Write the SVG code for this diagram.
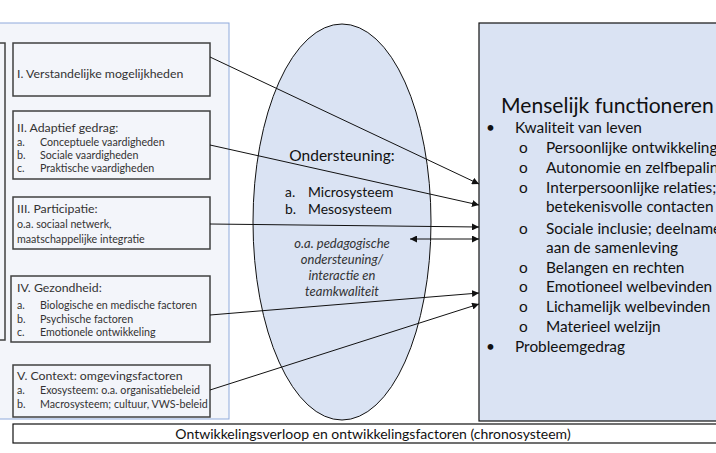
<svg xmlns="http://www.w3.org/2000/svg" width="716" height="453" viewBox="0 0 716 453">
<defs>
<style>
text{font-family:Lato,"Liberation Sans",sans-serif;}
.box{fill:none;stroke:#404040;stroke-width:1.5;}
.t1{font-size:12.3px;fill:#333;}
.t2{font-size:10.7px;fill:#333;}
.r{font-size:15.4px;fill:#111;}
.c{stroke:#111;stroke-width:1;fill:none;marker-end:url(#ah);}
</style>
<marker id="ah" viewBox="0 0 10 10" refX="10" refY="5" markerWidth="7" markerHeight="7" markerUnits="userSpaceOnUse" orient="auto-start-reverse">
<path d="M0,0 L10,5 L0,10 z" fill="#111"/>
</marker>
</defs>
<rect x="0" y="0" width="716" height="453" fill="#fff"/>
<g id="panel">
<rect x="-1" y="23" width="230" height="396" fill="#f3f5fa" stroke="#8faadc" stroke-width="1"/>
<rect x="-10" y="43" width="15" height="297" fill="none" stroke="#404040" stroke-width="1.5"/>
</g>
<g id="ellipse">
<ellipse cx="342" cy="222" rx="89" ry="198" fill="#dae3f3" stroke="#111" stroke-width="1"/>
<text x="342" y="161" font-size="15.5" text-anchor="middle" fill="#111">Ondersteuning:</text>
<text x="285" y="197" font-size="13.9" fill="#111">a.</text>
<text x="308" y="197" font-size="13.9" fill="#111">Microsysteem</text>
<text x="285" y="214" font-size="13.9" fill="#111">b.</text>
<text x="308" y="214" font-size="13.9" fill="#111">Mesosysteem</text>
<g font-size="13" font-style="italic" fill="#333" text-anchor="middle">
<text x="342" y="248">o.a. pedagogische</text>
<text x="342" y="264">ondersteuning/</text>
<text x="342" y="280">interactie en</text>
<text x="342" y="296">teamkwaliteit</text>
</g>
</g>
<g id="right">
<rect x="479" y="23" width="250" height="398" fill="#dae3f3" stroke="#111" stroke-width="1.2"/>
<text x="501" y="113" font-size="21.1" fill="#111">Menselijk functioneren</text>
<text x="486" y="133" class="r">•</text><text x="515" y="133" class="r">Kwaliteit van leven</text>
<g class="r">
<text x="519" y="153">o</text><text x="546" y="153">Persoonlijke ontwikkeling</text>
<text x="519" y="173">o</text><text x="546" y="173">Autonomie en zelfbepaling</text>
<text x="519" y="193">o</text><text x="546" y="193">Interpersoonlijke relaties;</text>
<text x="546" y="212">betekenisvolle contacten</text>
<text x="519" y="234">o</text><text x="546" y="234">Sociale inclusie; deelname</text>
<text x="546" y="253">aan de samenleving</text>
<text x="519" y="273">o</text><text x="546" y="273">Belangen en rechten</text>
<text x="519" y="292">o</text><text x="546" y="292">Emotioneel welbevinden</text>
<text x="519" y="312">o</text><text x="546" y="312">Lichamelijk welbevinden</text>
<text x="519" y="332">o</text><text x="546" y="332">Materieel welzijn</text>
<text x="486" y="352">•</text><text x="515" y="352">Probleemgedrag</text>
</g>
</g>
<g id="box1">
<rect class="box" x="13" y="43" width="197" height="53"/>
<text class="t1" x="17" y="78">I. Verstandelijke mogelijkheden</text>
</g>
<g id="box2">
<rect class="box" x="13" y="111" width="197" height="68"/>
<text class="t1" x="17" y="132">II. Adaptief gedrag:</text>
<text class="t2" x="17" y="146">a.</text><text class="t2" x="40" y="146">Conceptuele vaardigheden</text>
<text class="t2" x="17" y="159">b.</text><text class="t2" x="40" y="159">Sociale vaardigheden</text>
<text class="t2" x="17" y="172">c.</text><text class="t2" x="40" y="172">Praktische vaardigheden</text>
</g>
<g id="box3">
<rect class="box" x="13" y="197" width="197" height="52"/>
<text class="t1" x="17" y="213">III. Participatie:</text>
<text class="t2" x="17" y="228">o.a. sociaal netwerk,</text>
<text class="t2" x="17" y="243">maatschappelijke integratie</text>
</g>
<g id="box4">
<rect class="box" x="11" y="276" width="199" height="66"/>
<text class="t1" x="17" y="292">IV. Gezondheid:</text>
<text class="t2" x="17" y="309">a.</text><text class="t2" x="40" y="309">Biologische en medische factoren</text>
<text class="t2" x="17" y="323">b.</text><text class="t2" x="40" y="323">Psychische factoren</text>
<text class="t2" x="17" y="336">c.</text><text class="t2" x="40" y="336">Emotionele ontwikkeling</text>
</g>
<g id="box5">
<rect class="box" x="13" y="365" width="197" height="52"/>
<text class="t1" x="17" y="380">V. Context: omgevingsfactoren</text>
<text class="t2" x="17" y="394">a.</text><text class="t2" x="40" y="394">Exosysteem: o.a. organisatiebeleid</text>
<text class="t2" x="17" y="408">b.</text><text class="t2" x="40" y="408">Macrosysteem; cultuur, VWS-beleid</text>
</g>
<g id="chrono">
<rect x="13" y="424" width="710" height="19" fill="#fff" stroke="#111" stroke-width="1.2"/>
<text x="373" y="438.5" font-size="14" text-anchor="middle" fill="#111">Ontwikkelingsverloop en ontwikkelingsfactoren (chronosysteem)</text>
</g>
<g id="connectors">
<line class="c" x1="210" y1="57" x2="479" y2="184"/>
<line class="c" x1="210" y1="145" x2="479" y2="205"/>
<line class="c" x1="210" y1="224" x2="479" y2="227"/>
<line class="c" x1="410" y1="239" x2="479" y2="239" marker-start="url(#ah)"/>
<line class="c" x1="210" y1="315" x2="479" y2="293"/>
<line class="c" x1="210" y1="390" x2="479" y2="304"/>
</g>
</svg>
